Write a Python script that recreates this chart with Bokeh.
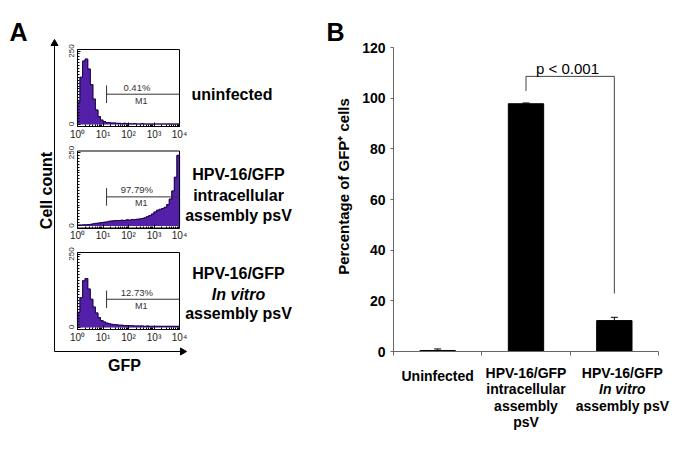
import numpy as np
from bokeh.plotting import figure
from bokeh.layouts import row
from bokeh.models import (Range1d, FixedTicker, LogAxis, LinearAxis, Whisker, TeeHead,
                          ColumnDataSource, CustomJSTickFormatter)
from bokeh.core.properties import value
from bokeh.embed import file_html
from bokeh.resources import INLINE

FONT = "Liberation Sans"
PURPLE = "#5420a8"
EDGE = "#1c0b45"

# ---------------- Panel A data (flow cytometry histograms) ----------------
# bin edges in decades of GFP intensity (10 bins per decade, 10^0 .. 10^4)
gfp_edge_decades = [i / 10 for i in range(41)]
uninfected_counts = [75, 160, 215, 222, 188, 135, 85, 48, 25, 13,
                     8, 5, 4, 3, 3, 2, 2, 1, 2, 1,
                     1, 0, 1, 0, 0, 1, 0, 0, 0, 0,
                     0, 0, 0, 0, 0, 0, 0, 0, 0, 0]
intracellular_counts = [1, 1, 2, 2, 3, 4, 6, 7, 8, 10,
                        11, 12, 14, 15, 16, 17, 17, 18, 17, 19,
                        18, 20, 20, 21, 22, 24, 26, 30, 34, 39,
                        46, 52, 55, 58, 62, 72, 90, 118, 165, 240]
invitro_counts = [50, 100, 158, 166, 130, 95, 68, 48, 32, 22,
                  17, 13, 11, 9, 8, 7, 6, 6, 5, 5,
                  4, 4, 3, 3, 3, 3, 2, 3, 2, 2,
                  2, 2, 2, 2, 2, 2, 2, 2, 2, 2]
hist_counts = [uninfected_counts, intracellular_counts, invitro_counts]
gate_percent = ["0.41%", "97.79%", "12.73%"]
gate_level = [102, 98, 95]
gate_start = 13.8
gate_half = 30
hist_names = [["uninfected"],
              ["HPV-16/GFP", "intracellular", "assembly psV"],
              ["HPV-16/GFP", "In vitro", "assembly psV"]]
x_tick_vals = [1, 10, 100, 1000, 10000]
x_tick_labels = ["10⁰", "10¹", "10²", "10³", "10⁴"]
y_tick_vals = [0, 250]

# ---------------- Panel B data (bar chart) ----------------
categories = [["Uninfected"],
              ["HPV-16/GFP", "intracellular", "assembly", "psV"],
              ["HPV-16/GFP", "In vitro", "assembly psV"]]
gfp_percent = [0.4, 97.8, 12.2]
gfp_err = [0.6, 0.3, 1.3]
y_ticks_b = [0, 20, 40, 60, 80, 100, 120]
bracket_top = 108.6
bracket_left_end = 102.8
bracket_right_end = 22.9
p_text = "p < 0.001"

# ---------------- layout (pixels) ----------------
H = 448
W_A = 318
W_B = 684 - W_A

# =============== Panel A: one canvas, histograms placed via extra y ranges ===============
X0, PX_DEC = 77.0, 25.5            # pixel of 10^0 and pixels per decade


def lx(px):
    return 10 ** ((px - X0) / PX_DEC)


HIST_TOP = [49.0, 150.5, 252.0]
FRAME_H = 77.0
ZERO_OFF = 2.5
U = 250.0 / 73.0                   # count units per pixel
hist_y_min = -ZERO_OFF * U
hist_y_max = (FRAME_H - ZERO_OFF) * U

pa = figure(width=W_A, height=H, x_axis_type="log",
            x_range=Range1d(lx(0), lx(W_A)), y_range=Range1d(H, 0),
            x_axis_location=None, y_axis_location=None,
            output_backend="svg", toolbar_location=None,
            min_border=0, min_border_left=0, min_border_right=0,
            min_border_top=0, min_border_bottom=0)
pa.xgrid.visible = False
pa.ygrid.visible = False
pa.outline_line_color = None

edges = [10 ** d for d in gfp_edge_decades]
minor_x = [m * 10 ** k for k in range(4) for m in range(2, 10)]
TXT = dict(text_font=value(FONT), text_align="center", text_baseline="middle")

for i in range(3):
    zero_px = HIST_TOP[i] + FRAME_H - ZERO_OFF
    rn = f"h{i}"
    pa.extra_y_ranges[rn] = Range1d((zero_px - H) * U, zero_px * U)
    c = hist_counts[i]
    pa.quad(left=edges[:-1], right=edges[1:], bottom=0, top=c, y_range_name=rn,
            fill_color=PURPLE, line_color=PURPLE, line_width=1.2)
    pa.step(x=edges, y=c + [c[-1]], mode="after", y_range_name=rn,
            line_color=EDGE, line_width=1)
    # plot box
    pa.quad(left=[1], right=[1e4], bottom=[hist_y_min], top=[hist_y_max], y_range_name=rn,
            fill_color=None, line_color="black", line_width=1)
    # gate marker M1
    lv = gate_level[i]
    pa.segment(x0=[gate_start], y0=[lv], x1=[1e4], y1=[lv], y_range_name=rn,
               line_color="#333333", line_width=1)
    pa.segment(x0=[gate_start], y0=[lv - gate_half], x1=[gate_start], y1=[lv + gate_half],
               y_range_name=rn, line_color="#333333", line_width=1)
    pa.text(x=[10 ** 2.33], y=[lv + 24], text=[gate_percent[i]], y_range_name=rn,
            text_font_size="9.5px", text_color="#333333", **TXT)
    pa.text(x=[10 ** 2.5], y=[lv - 22], text=["M1"], y_range_name=rn,
            text_font_size="9px", text_color="#333333", **TXT)

    xa = LogAxis(fixed_location=HIST_TOP[i] + FRAME_H, bounds=(1, 1e4))
    xa.ticker = FixedTicker(ticks=x_tick_vals, minor_ticks=minor_x)
    xa.major_label_overrides = {v: l for v, l in zip(x_tick_vals, x_tick_labels)}
    xa.major_label_text_font = FONT
    xa.major_label_text_font_size = "10px"
    xa.major_label_text_color = "#222222"
    xa.major_label_standoff = 2
    xa.major_tick_in = 4
    xa.major_tick_out = 0
    xa.minor_tick_in = 2
    xa.minor_tick_out = 0
    xa.axis_line_color = "black"
    pa.add_layout(xa, "below")

    ya = LinearAxis(y_range_name=rn, fixed_location=1, bounds=(hist_y_min, hist_y_max))
    ya.ticker = FixedTicker(ticks=y_tick_vals, minor_ticks=list(range(0, 251, 10)))
    ya.major_label_orientation = "vertical"
    ya.major_label_text_font = FONT
    ya.major_label_text_font_size = "8px"
    ya.major_label_text_color = "#222222"
    ya.major_label_standoff = 4
    ya.major_tick_in = 3
    ya.major_tick_out = 0
    ya.minor_tick_in = 2
    ya.minor_tick_out = 0
    ya.axis_line_color = "black"
    pa.add_layout(ya, "left")

# sample names to the right of each histogram
name_x = [231.5, 238, 238]
name_y = [[93.5], [174, 195, 215], [273, 294, 313]]
for i, names in enumerate(hist_names):
    for t, yy in zip(names, name_y[i]):
        pa.text(x=[lx(name_x[i])], y=[yy], text=[t], text_font_size="16px",
                text_font_style="bold italic" if t == "In vitro" else "bold",
                text_color="black", **TXT)

# long L-shaped axis with arrow heads
AX_X, AX_TOP, AX_Y, AX_RIGHT = 54, 44, 351, 181
pa.line(x=[lx(AX_X), lx(AX_X), lx(AX_RIGHT)], y=[AX_TOP, AX_Y, AX_Y],
        line_color="black", line_width=1)
pa.scatter(x=[lx(AX_X)], y=[AX_TOP - 1], marker="triangle", size=7,
           fill_color="black", line_color="black")
pa.scatter(x=[lx(AX_RIGHT + 1)], y=[AX_Y], marker="triangle", size=7, angle=-np.pi / 2,
           fill_color="black", line_color="black")
pa.text(x=[lx(46)], y=[190], text=["Cell count"], angle=np.pi / 2, text_font_size="16px",
        text_font_style="bold", text_color="black", **TXT)
pa.text(x=[lx(124)], y=[365], text=["GFP"], text_font_size="16px",
        text_font_style="bold", text_color="black", **TXT)
pa.text(x=[lx(18)], y=[31], text=["A"], text_font_size="25px",
        text_font_style="bold", text_color="black", **TXT)

# =============== Panel B: bar chart ===============
BX0, PX_CAT = 393.0, (658.0 - 393.0) / 3   # pixel of x=0, pixels per category
BY0, PX_PCT = 351.0, 304.0 / 120           # pixel of y=0, pixels per percent


def bx(px):
    return (px - BX0) / PX_CAT


def by(py):
    return (BY0 - py) / PX_PCT


pb = figure(width=W_B, height=H, x_range=Range1d(bx(W_A), bx(W_A + W_B)),
            y_range=Range1d(by(H), by(0)), x_axis_location=None, y_axis_location=None,
            output_backend="svg", toolbar_location=None,
            min_border=0, min_border_left=0, min_border_right=0,
            min_border_top=0, min_border_bottom=0)
pb.xgrid.visible = False
pb.ygrid.visible = False
pb.outline_line_color = None

cat_x = [i + 0.5 for i in range(len(categories))]
pb.vbar(x=cat_x, top=gfp_percent, width=0.4, fill_color="black", line_color="black")
src = ColumnDataSource(dict(x=cat_x, lower=gfp_percent,
                            upper=[v + e for v, e in zip(gfp_percent, gfp_err)]))
pb.add_layout(Whisker(base="x", lower="lower", upper="upper", source=src,
                      line_color="black", line_width=1, lower_head=None,
                      upper_head=TeeHead(size=7, line_color="black", line_width=1)))

# significance bracket
pb.line(x=[cat_x[1], cat_x[1], cat_x[2], cat_x[2]],
        y=[bracket_left_end, bracket_top, bracket_top, bracket_right_end],
        line_color="#444444", line_width=1)
pb.text(x=[bx(567)], y=[by(68)], text=[p_text], text_font_size="15px",
        text_color="black", **TXT)

xb = LinearAxis(fixed_location=0, bounds=(0, len(categories)))
xb.ticker = FixedTicker(ticks=list(range(len(categories) + 1)), minor_ticks=[])
xb.formatter = CustomJSTickFormatter(code="return ''")
xb.major_tick_out = 4
xb.major_tick_in = 0
xb.minor_tick_line_color = None
xb.axis_line_color = "#666666"
xb.major_tick_line_color = "#666666"
pb.add_layout(xb, "below")

yb = LinearAxis(fixed_location=0, bounds=(0, 120))
yb.ticker = FixedTicker(ticks=y_ticks_b, minor_ticks=[])
yb.major_label_text_font = FONT
yb.major_label_text_font_size = "14px"
yb.major_label_text_font_style = "bold"
yb.major_label_text_color = "black"
yb.major_label_standoff = 5
yb.major_tick_out = 3
yb.major_tick_in = 0
yb.minor_tick_line_color = None
yb.axis_line_color = "#666666"
yb.major_tick_line_color = "#666666"
pb.add_layout(yb, "left")

pb.text(x=[bx(343)], y=[by(186)], text=["Percentage of GFP⁺ cells"], angle=np.pi / 2,
        text_font_size="15px", text_font_style="bold", text_color="black", **TXT)
pb.text(x=[bx(335)], y=[by(31)], text=["B"], text_font_size="25px",
        text_font_style="bold", text_color="black", **TXT)

line_px = {0: [375.5], 1: [372, 388.5, 405, 421], 2: [372, 388.5, 405]}
x_shift_px = [0, 0, 8]
for i, lines in enumerate(categories):
    for t, yy in zip(lines, line_px[i]):
        pb.text(x=[cat_x[i] + x_shift_px[i] / PX_CAT], y=[by(yy)], text=[t],
                text_font_size="14px",
                text_font_style="bold italic" if t == "In vitro" else "bold",
                text_color="black", **TXT)

layout = row(pa, pb, spacing=0)
open("out.html", "w").write(file_html(layout, INLINE))
